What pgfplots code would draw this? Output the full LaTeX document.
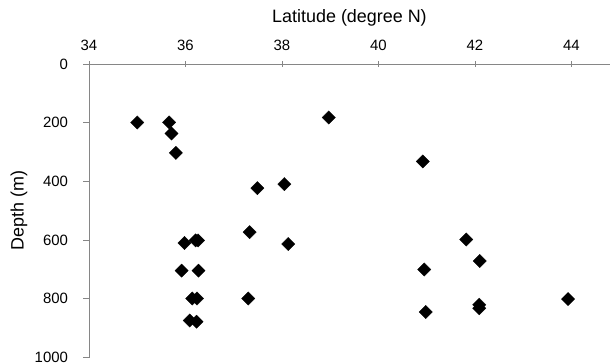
\documentclass[border=0pt]{standalone}
\usepackage{fontspec}
\setmainfont{Liberation Sans}
\usepackage{pgfplots}
\pgfplotsset{compat=1.18}

\definecolor{axisgray}{RGB}{134,134,134}

\begin{document}
\begin{tikzpicture}
\begin{axis}[
  scale only axis,
  width=521bp, height=293.5bp,
  xmin=34, xmax=44.8,
  ymin=0, ymax=1000,
  y dir=reverse,
  axis x line=top,
  axis y line=left,
  axis line style={axisgray, line width=0.8bp, -},
  xtick={34,36,...,44},
  ytick={0,200,...,1000},
  minor tick num=0,
  x tick style={axisgray, line width=0.8bp},
  y tick style={axisgray, line width=0.8bp},
  xtick align=center,
  ytick align=outside,
  major tick length=5.5bp,
  /pgf/number format/assume math mode=true,
  /pgf/number format/1000 sep={},
  ticklabel style={font=\fontsize{15}{17}\selectfont, text=black},
  xticklabel style={anchor=center, yshift=16bp},
  yticklabel style={anchor=east, xshift=-12bp},
  label style={font=\fontsize{18}{21}\selectfont},
  xlabel={Latitude (degree N)},
  ylabel={Depth (m)},
  xlabel style={at={(axis description cs:0.5,1)}, anchor=center, yshift=46bp},
  ylabel style={at={(axis description cs:-0.1344,0.5)}, anchor=center},
  clip=false,
]
\addplot[only marks, mark=square*, mark size=4.7bp,
  mark options={rotate=45, fill=black, draw=black, line width=0.3bp}]
  table {
lat    depth
35.00  199
35.66  199
35.71  237
35.80  303
38.97  182
37.49  423
38.05  409
37.33  573
38.13  613
35.98  610
36.21  601
36.26  601
35.92  704
36.27  704
36.14  799
36.24  799
37.30  799
36.09  874
36.23  878
40.92  332
41.82  598
42.10  671
40.95  700
43.93  801
42.09  820
42.09  832
40.98  845
};
\end{axis}
\pgfresetboundingbox
\path[use as bounding box]
  ([shift={(-89bp,64bp)}]current axis.north west)
  rectangle ([shift={(0bp,-300bp)}]current axis.north east);
\end{tikzpicture}
\end{document}
